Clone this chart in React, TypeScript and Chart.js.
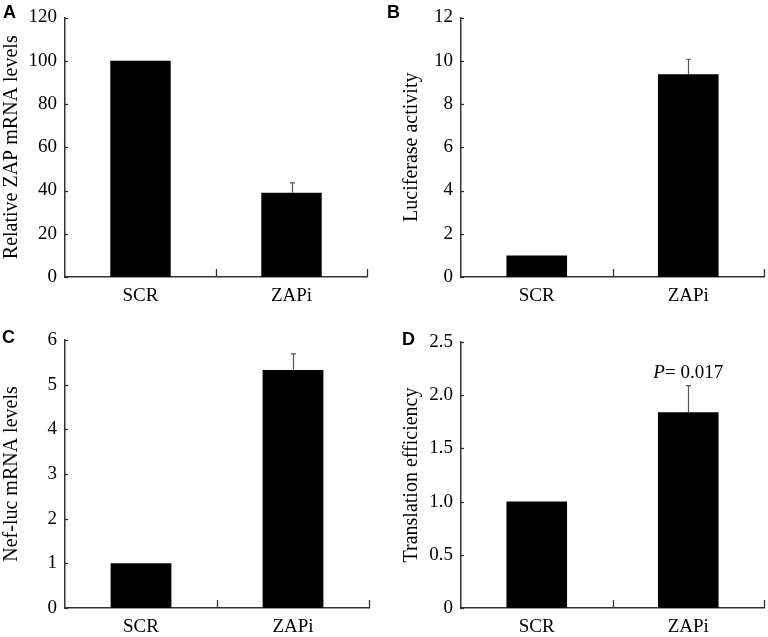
import React, { useEffect, useRef } from 'react';
import { Chart, registerables } from 'chart.js';

Chart.register(...registerables);

// ---------- data ----------
const categories = ['SCR', 'ZAPi'];

const valuesA = [100, 39];
const errorsA = [0, 4.5];
const yTickLabelsA = ['0', '20', '40', '60', '80', '100', '120'];

const valuesB = [1, 9.37];
const errorsB = [0, 0.7];
const yTickLabelsB = ['0', '2', '4', '6', '8', '10', '12'];

const valuesC = [1, 5.33];
const errorsC = [0, 0.36];
const yTickLabelsC = ['0', '1', '2', '3', '4', '5', '6'];

const valuesD = [1, 1.84];
const errorsD = [0, 0.25];
const yTickLabelsD = ['0', '0.5', '1.0', '1.5', '2.0', '2.5'];

const yTitles = [
  'Relative ZAP mRNA levels',
  'Luciferase activity',
  'Nef-luc mRNA levels',
  'Translation efficiency',
];
const panelLetters = ['A', 'B', 'C', 'D'];
const pValueItalic = 'P';
const pValueRest = '= 0.017';

const SERIF = "'Liberation Serif', 'Times New Roman', Times, serif";
const SANS = "'Liberation Sans', Arial, Helvetica, sans-serif";

type PanelProps = {
  left: number;
  top: number;
  width: number;
  height: number;
  values: number[];
  errors: number[];
  tickLabels: string[];
  yMax: number;
  yStep: number;
  title: string;
  letter: string;
  letterX: number;
  letterY: number;
  padTop: number;
  padRight: number;
  yWidth: number;
  xHeight: number;
  titlePad: number;
  annotate?: boolean;
};

function Panel(p: PanelProps) {
  const ref = useRef<HTMLCanvasElement | null>(null);

  useEffect(() => {
    if (!ref.current) return;

    const overlay = {
      id: 'overlay',
      afterDraw(chart: any) {
        const ctx = chart.ctx as CanvasRenderingContext2D;
        const area = chart.chartArea;
        const xs = chart.scales.x;
        const ys = chart.scales.y;
        ctx.save();

        // inside ticks on y axis
        ctx.strokeStyle = '#333';
        ctx.lineWidth = 1.3;
        ys.ticks.forEach((t: any) => {
          const py = Math.round(ys.getPixelForValue(t.value)) + 0.5;
          ctx.beginPath();
          ctx.moveTo(area.left, py);
          ctx.lineTo(area.left + 3, py);
          ctx.stroke();
        });

        // inside ticks on x axis at category boundaries
        const n = categories.length;
        for (let i = 1; i <= n; i++) {
          let px: number;
          if (i < n) {
            px = (xs.getPixelForValue(i - 1) + xs.getPixelForValue(i)) / 2;
          } else {
            px = area.right - 0.5;
          }
          px = Math.round(px) + 0.5;
          ctx.beginPath();
          ctx.moveTo(px, area.bottom);
          ctx.lineTo(px, area.bottom - 8);
          ctx.stroke();
        }

        // error bars
        const meta = chart.getDatasetMeta(0);
        ctx.strokeStyle = '#555';
        ctx.lineWidth = 1.2;
        meta.data.forEach((el: any, i: number) => {
          const e = p.errors[i];
          if (!e) return;
          const yTop = ys.getPixelForValue(p.values[i] + e);
          const x = Math.round(el.x) + 0.5;
          ctx.beginPath();
          ctx.moveTo(x, el.y);
          ctx.lineTo(x, yTop);
          ctx.moveTo(x - 2.5, yTop);
          ctx.lineTo(x + 2.5, yTop);
          ctx.stroke();
        });

        // annotation (P value)
        if (p.annotate) {
          const idx = 1;
          const el = meta.data[idx];
          const yTop = ys.getPixelForValue(p.values[idx] + p.errors[idx]);
          const baseY = yTop - 8;
          ctx.fillStyle = '#000';
          ctx.textBaseline = 'alphabetic';
          ctx.font = `italic 19px ${SERIF}`;
          const w1 = ctx.measureText(pValueItalic).width;
          ctx.font = `19px ${SERIF}`;
          const w2 = ctx.measureText(pValueRest).width;
          const startX = el.x - (w1 + w2) / 2;
          ctx.font = `italic 19px ${SERIF}`;
          ctx.textAlign = 'left';
          ctx.fillText(pValueItalic, startX, baseY);
          ctx.font = `19px ${SERIF}`;
          ctx.fillText(pValueRest, startX + w1, baseY);
        }

        // panel letter
        ctx.fillStyle = '#000';
        ctx.font = `bold 18px ${SANS}`;
        ctx.textAlign = 'left';
        ctx.textBaseline = 'alphabetic';
        ctx.fillText(p.letter, p.letterX, p.letterY);

        ctx.restore();
      },
    };

    const chart = new Chart(ref.current, {
      type: 'bar',
      data: {
        labels: categories,
        datasets: [
          {
            data: p.values,
            backgroundColor: '#000',
            borderWidth: 0,
            barPercentage: 0.4,
            categoryPercentage: 1,
          },
        ],
      },
      options: {
        animation: false,
        responsive: false,
        devicePixelRatio: 1,
        layout: {
          padding: { left: 0, top: p.padTop, right: p.padRight, bottom: 0 },
        },
        plugins: {
          legend: { display: false },
          tooltip: { enabled: false },
          title: { display: false },
        },
        scales: {
          x: {
            offset: true,
            grid: { display: false, drawTicks: false },
            border: { display: true, color: '#333', width: 1.5 },
            ticks: {
              color: '#000',
              padding: 10,
              font: { family: SERIF, size: 19, lineHeight: 1 },
              maxRotation: 0,
            },
            afterFit: (scale: any) => {
              scale.height = p.xHeight;
            },
          },
          y: {
            min: 0,
            max: p.yMax,
            grid: { display: false, drawTicks: false },
            border: { display: true, color: '#333', width: 1.5 },
            ticks: {
              stepSize: p.yStep,
              color: '#000',
              padding: 8,
              font: { family: SERIF, size: 19, lineHeight: 1 },
              callback: (_v: any, i: number) => p.tickLabels[i],
            },
            title: {
              display: true,
              text: p.title,
              color: '#000',
              font: { family: SERIF, size: 20, lineHeight: 1.2 },
              padding: { top: p.titlePad, bottom: 0 },
            },
            afterFit: (scale: any) => {
              scale.width = p.yWidth;
            },
          },
        },
      },
      plugins: [overlay],
    } as any);

    return () => chart.destroy();
  }, []);

  return (
    <div
      style={{
        position: 'absolute',
        left: p.left,
        top: p.top,
        width: p.width,
        height: p.height,
      }}
    >
      <canvas
        ref={ref}
        width={p.width}
        height={p.height}
        style={{ width: p.width, height: p.height, display: 'block' }}
      />
    </div>
  );
}

export default function App() {
  return (
    <div
      style={{
        position: 'fixed',
        left: 0,
        top: 0,
        width: 768,
        height: 637,
        background: '#fff',
        overflow: 'hidden',
      }}
    >
      <Panel
        left={0}
        top={0}
        width={384}
        height={310}
        values={valuesA}
        errors={errorsA}
        tickLabels={yTickLabelsA}
        yMax={120}
        yStep={20}
        title={yTitles[0]}
        letter={panelLetters[0]}
        letterX={3}
        letterY={18}
        padTop={10}
        padRight={17}
        yWidth={65}
        xHeight={33}
        titlePad={0}
      />
      <Panel
        left={384}
        top={0}
        width={384}
        height={310}
        values={valuesB}
        errors={errorsB}
        tickLabels={yTickLabelsB}
        yMax={12}
        yStep={2}
        title={yTitles[1]}
        letter={panelLetters[1]}
        letterX={3}
        letterY={18}
        padTop={9}
        padRight={4}
        yWidth={77}
        xHeight={33}
        titlePad={16}
      />
      <Panel
        left={0}
        top={310}
        width={384}
        height={327}
        values={valuesC}
        errors={errorsC}
        tickLabels={yTickLabelsC}
        yMax={6}
        yStep={1}
        title={yTitles[2]}
        letter={panelLetters[2]}
        letterX={2}
        letterY={33}
        padTop={30}
        padRight={15}
        yWidth={65}
        xHeight={29}
        titlePad={0}
      />
      <Panel
        left={384}
        top={310}
        width={384}
        height={327}
        values={valuesD}
        errors={errorsD}
        tickLabels={yTickLabelsD}
        yMax={2.5}
        yStep={0.5}
        title={yTitles[3]}
        letter={panelLetters[3]}
        letterX={18}
        letterY={35}
        padTop={32}
        padRight={4}
        yWidth={77}
        xHeight={29}
        titlePad={16}
        annotate
      />
    </div>
  );
}
